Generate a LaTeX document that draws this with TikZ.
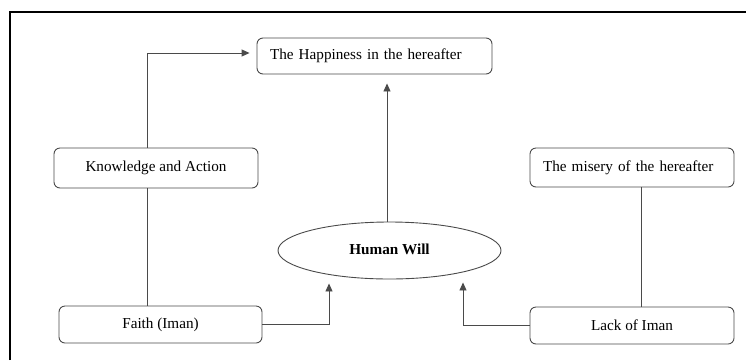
\documentclass[tikz,border=0pt]{standalone}
\usepackage{fontspec}
\setmainfont{Liberation Serif}
\usetikzlibrary{arrows.meta,shapes.geometric,calc}
\definecolor{linegray}{HTML}{4A4A4A}
\tikzset{
  box/.style={draw=linegray, line width=0.9pt, rounded corners=6pt, inner sep=0pt, font=\fontsize{15.2}{18}\selectfont},
  lbox/.style={box, align=left, inner xsep=13pt},
  conn/.style={draw=linegray, line width=0.9pt},
  arr/.style={conn, -{Triangle[length=8pt,width=7pt]}},
}
\begin{document}
\begin{tikzpicture}[x=1pt,y=-1pt]
\useasboundingbox (0,0) rectangle (746,360);
% frame
\draw[black, line width=1.3pt] (10,360) -- (10,12) -- (746,12);
% nodes
\node[lbox, text width=209pt, minimum height=36pt] (happy) at (374.5,56) {The Happiness in the hereafter};
\node[box, minimum width=204pt, minimum height=40pt] (know) at (156,168) {Knowledge and Action};
\node[lbox, text width=178pt, minimum height=39pt] (misery) at (632,167.5) {The misery of the hereafter};
\node[box, minimum width=203pt, minimum height=37pt] (faith) at (160.5,324.5) {Faith (Iman)};
\node[box, minimum width=204pt, minimum height=37pt] (lack) at (632,325.5) {Lack of Iman};
\node[draw=linegray, line width=0.9pt, ellipse, minimum width=223pt, minimum height=57pt, inner sep=0pt,
      font=\fontsize{15.2}{18}\selectfont\bfseries] (will) at (389.5,250.5) {\raisebox{3pt}{Human Will}};
% connectors
\draw[arr] ([xshift=-9pt]know.north) |- ([xshift=-7pt,yshift=3pt]happy.west);
\draw[conn] ([xshift=-9pt]know.south) -- ([xshift=-9pt]know.south |- faith.north);
\draw[arr, shorten >=9pt] ([xshift=-2.5pt]will.north) -- ([xshift=-2.5pt]will.north |- happy.south);
\draw[arr] (faith.east) -| ([xshift=-60.5pt,yshift=-4pt]will.south);
\draw[arr] (lack.west) -| ([xshift=73.5pt,yshift=-3pt]will.south);
\draw[conn] ([xshift=9pt]misery.south) -- ([xshift=9pt]misery.south |- lack.north);
\end{tikzpicture}
\end{document}
